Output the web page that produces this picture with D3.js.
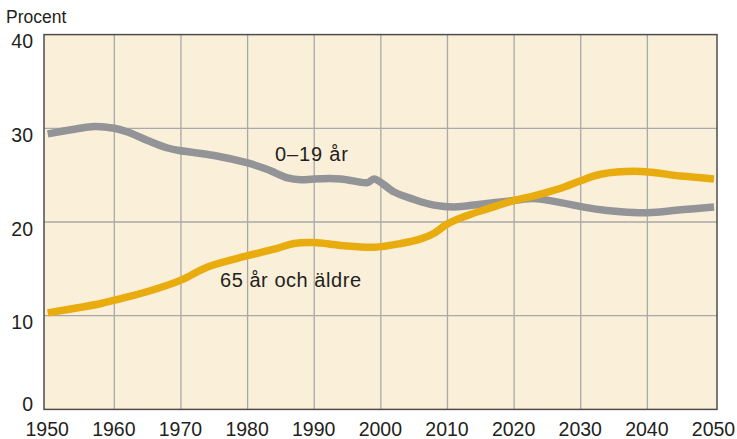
<!DOCTYPE html>
<html><head><meta charset="utf-8">
<script src="https://cdn.jsdelivr.net/npm/d3@7"></script>
<style>body{margin:0;background:#fff}svg{display:block}text{font-family:"Liberation Sans",Arial,sans-serif;fill:#231f20}</style>
</head><body><div id="chart"></div>
<script>
const yearsYoung = [1950,1954,1957,1960,1962,1965,1968,1970,1975,1980,1983,1986,1988,1990,1994,1998,1999,2002,2005,2008,2011,2015,2020,2023,2026,2032,2036,2040,2045,2050];
const valuesYoung = [29.4,29.9,30.2,30.0,29.6,28.7,27.9,27.6,27.1,26.3,25.6,24.7,24.5,24.6,24.6,24.2,24.6,23.2,22.4,21.8,21.6,21.9,22.3,22.5,22.2,21.4,21.1,21.0,21.3,21.6];
const yearsOld = [1950,1955,1958,1962,1966,1970,1974,1980,1984,1987,1990,1994,1999,2003,2006,2008,2010,2013,2016,2020,2023,2027,2030,2033,2039,2045,2050];
const valuesOld = [10.3,10.9,11.3,12.0,12.8,13.8,15.2,16.4,17.1,17.7,17.8,17.5,17.3,17.7,18.2,18.8,19.8,20.7,21.4,22.3,22.8,23.6,24.4,25.1,25.4,24.9,24.6];
const xTicks = [1950,1960,1970,1980,1990,2000,2010,2020,2030,2040,2050];
const yTicks = [0,10,20,30,40];
const seriesNames = ["0–19 år","65 år och äldre"];
const yTitle = "Procent";

const W=737,H=439;
const svg=d3.select("#chart").append("svg").attr("width",W).attr("height",H);
const x=d3.scaleLinear().domain([1950,2050]).range([47.7,714]);
const y=d3.scaleLinear().domain([0,40]).range([409.4,34.6]);
const frame={l:44,r:717,t:34.6,b:409.4};

svg.append("rect").attr("x",frame.l).attr("y",frame.t).attr("width",frame.r-frame.l).attr("height",frame.b-frame.t).attr("fill","#faefd8");

const g=svg.append("g");
g.selectAll(".vg").data(xTicks.filter(d=>d>1950&&d<2050)).join("line")
 .attr("x1",d=>x(d)).attr("x2",d=>x(d)).attr("y1",frame.t).attr("y2",frame.b)
 .attr("stroke","#a9a9a9").attr("stroke-width",1.3);
g.selectAll(".hg").data(yTicks.filter(d=>d>0&&d<40)).join("line")
 .attr("x1",frame.l).attr("x2",frame.r).attr("y1",d=>y(d)).attr("y2",d=>y(d))
 .attr("stroke","#a9a9a9").attr("stroke-width",1.3);

const line=d3.line().x(d=>x(d[0])).y(d=>y(d[1])).curve(d3.curveCatmullRom.alpha(0.5));
const young=yearsYoung.map((d,i)=>[d,valuesYoung[i]]);
const old=yearsOld.map((d,i)=>[d,valuesOld[i]]);
svg.append("path").attr("d",line(young)).attr("fill","none").attr("stroke","#939497").attr("stroke-width",7.5);
svg.append("path").attr("d",line(old)).attr("fill","none").attr("stroke","#e8ac0e").attr("stroke-width",7.5);

svg.append("rect").attr("x",frame.l).attr("y",frame.t).attr("width",frame.r-frame.l).attr("height",frame.b-frame.t).attr("fill","none").attr("stroke","#4d4d4d").attr("stroke-width",1.5);

svg.selectAll(".xl").data(xTicks).join("text")
 .attr("x",d=>x(d)-0.5).attr("y",436).attr("text-anchor","middle").attr("font-size",19.5).text(d=>d);
svg.selectAll(".yl").data(yTicks).join("text")
 .attr("x",33).attr("y",d=>d===0?411:y(d)+13.5).attr("text-anchor","end").attr("font-size",19.5).text(d=>d);
svg.append("text").attr("x",6).attr("y",22.7).attr("font-size",17.5).text(yTitle);

svg.append("text").attr("x",275).attr("y",160.7).attr("font-size",20).attr("textLength",73).text(seriesNames[0]);
svg.append("text").attr("x",220).attr("y",287.3).attr("font-size",20).attr("textLength",141).text(seriesNames[1]);
</script></body></html>
